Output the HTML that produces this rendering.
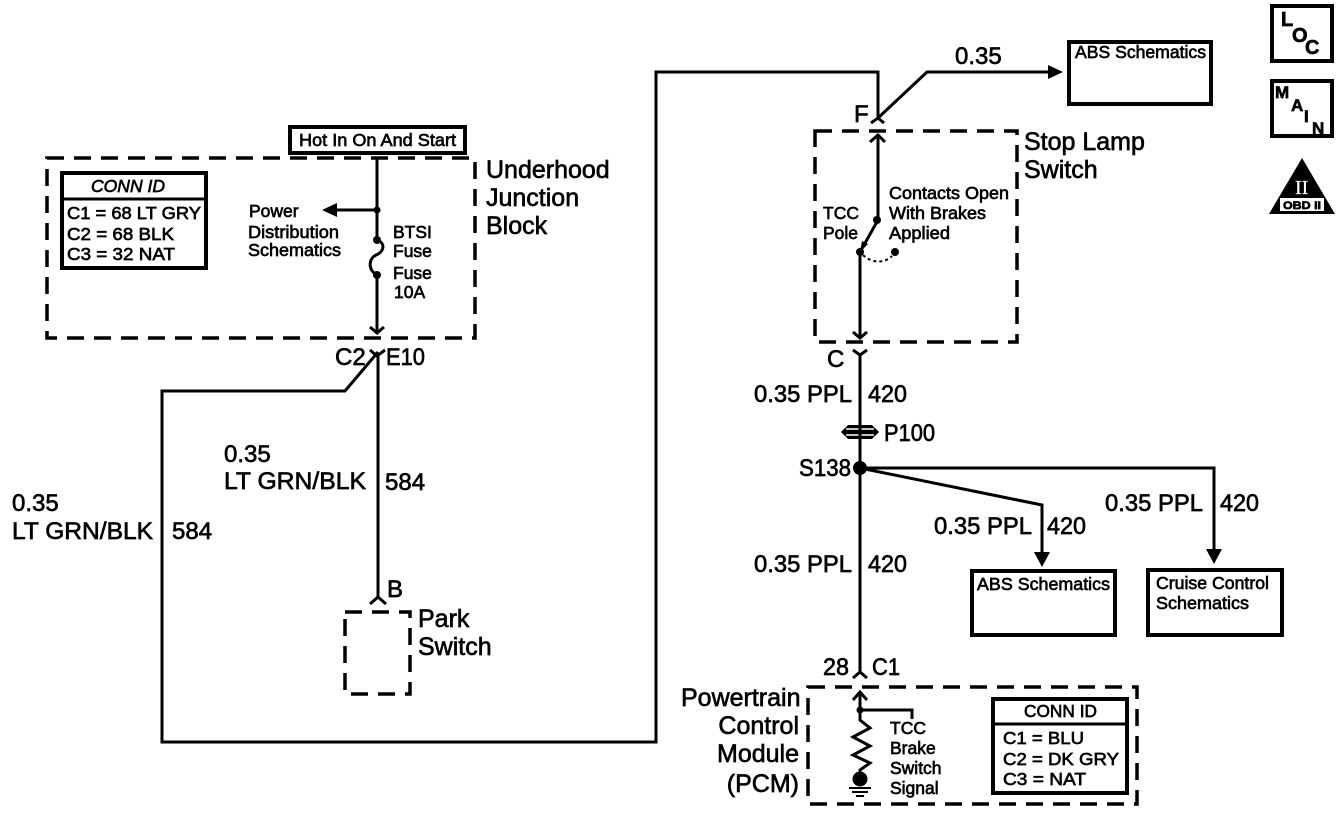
<!DOCTYPE html>
<html><head><meta charset="utf-8"><style>
html,body{margin:0;padding:0;background:#fff}
svg{display:block}
text{font-family:"Liberation Sans",sans-serif;fill:#000;stroke:#000;stroke-width:.65}
.l{font-size:25px}.m{font-size:24px}.s{font-size:17.5px}.t{font-size:17.5px}
.w{fill:none;stroke:#000;stroke-width:3}
.b{fill:none;stroke:#000;stroke-width:4}
.d{fill:none;stroke:#000;stroke-width:3.5;stroke-dasharray:17 10}
</style></head><body>
<svg width="1344" height="820" viewBox="0 0 1344 820" xmlns="http://www.w3.org/2000/svg">
<!-- dashed boxes -->
<rect class="d" x="47" y="158" width="428" height="180"/>
<rect class="d" x="815" y="131" width="202" height="211"/>
<rect class="d" x="345" y="612" width="65" height="82"/>
<rect class="d" x="808" y="687" width="329" height="117"/>
<!-- solid boxes -->
<rect class="b" x="290" y="127" width="175" height="26"/>
<text class="s" x="299" y="146" textLength="157" lengthAdjust="spacingAndGlyphs">Hot In On And Start</text>
<rect class="b" x="62" y="173" width="144" height="95"/>
<line class="w" x1="62" y1="199" x2="206" y2="199"/>
<text class="s" x="91" y="192" font-style="italic" textLength="74" lengthAdjust="spacingAndGlyphs">CONN ID</text>
<text class="s" x="67" y="219" textLength="134" lengthAdjust="spacingAndGlyphs">C1 = 68 LT GRY</text>
<text class="s" x="67" y="240" textLength="107" lengthAdjust="spacingAndGlyphs">C2 = 68 BLK</text>
<text class="s" x="67" y="260" textLength="108" lengthAdjust="spacingAndGlyphs">C3 = 32 NAT</text>
<rect class="b" x="1069" y="42" width="142" height="62"/>
<text class="s" x="1075" y="58" textLength="131" lengthAdjust="spacingAndGlyphs">ABS Schematics</text>
<rect class="b" x="972" y="571" width="143" height="64"/>
<text class="s" x="977" y="590" textLength="133" lengthAdjust="spacingAndGlyphs">ABS Schematics</text>
<rect class="b" x="1148" y="570" width="134" height="65"/>
<text class="s" x="1156" y="589" textLength="113" lengthAdjust="spacingAndGlyphs">Cruise Control</text>
<text class="s" x="1156" y="609" textLength="93" lengthAdjust="spacingAndGlyphs">Schematics</text>
<rect class="b" x="993" y="699" width="134" height="94"/>
<line class="w" x1="993" y1="724" x2="1127" y2="724"/>
<text class="s" x="1024" y="717" textLength="73" lengthAdjust="spacingAndGlyphs">CONN ID</text>
<text class="s" x="1003" y="744" textLength="81" lengthAdjust="spacingAndGlyphs">C1 = BLU</text>
<text class="s" x="1003" y="765" textLength="116" lengthAdjust="spacingAndGlyphs">C2 = DK GRY</text>
<text class="s" x="1003" y="785" textLength="83" lengthAdjust="spacingAndGlyphs">C3 = NAT</text>
<!-- left wires -->
<path class="w" d="M377 158V240M377 275V333"/>
<path class="w" d="M377 210H330"/>
<path d="M322 210l15-7v14z"/>
<path class="w" d="M377 240C386 243 384 252 376 255C368 259 368 270 377 275"/>
<circle cx="377" cy="210" r="3.5"/><circle cx="377" cy="240" r="4"/><circle cx="377" cy="275" r="4"/>
<path class="w" d="M370 327l7 6 7-6"/>
<path class="w" d="M370 350l7 6 8-6M378 352L345 391H162V742H656V72H878V118"/>
<path class="w" d="M378 356V597M370 604l8-7 8 7"/>
<!-- right top -->
<path class="w" d="M871 123l7-5 6 5M878 118L927 72H1050"/>
<path d="M1063 72l-15-7v14z"/>
<path class="w" d="M878 136V220L860 252V337"/>
<path class="w" d="M870 142l8-7 7 7"/>
<path d="M860 252l2-11 6 3z"/>
<circle cx="877" cy="220" r="4"/><circle cx="860" cy="252" r="4"/><circle cx="895" cy="252" r="4"/>
<path d="M863 255C872 264 885 263 892 256" fill="none" stroke="#000" stroke-width="2" stroke-dasharray="3 3"/>
<path class="w" d="M853 332l7 6 7-6"/>
<path class="w" d="M853 350l7 5 7-5M860 355V672M853 678l7-6 7 6"/>
<!-- P100 -->
<path d="M841 432l7-7h24l7 7-7 7h-24z" fill="#000"/>
<path d="M846 429h28M846 435h28" stroke="#fff" stroke-width="1.6"/>
<line class="w" x1="860" y1="420" x2="860" y2="445"/>
<!-- S138 -->
<circle cx="860" cy="468" r="7"/>
<path class="w" d="M860 468L1042 505V552M860 468H1214V552"/>
<path d="M1042 567l-8-15h16z"/><path d="M1214 564l-8-15h16z"/>
<!-- PCM inside -->
<path class="w" d="M860 692V720L870 728 853 737 870 746 853 755 870 763 860 770V778M860 710H912V719"/>
<path class="w" d="M853 700l7-8 7 8"/>
<circle cx="860" cy="710" r="3.5"/><circle cx="860" cy="779" r="7.5"/>
<path d="M849 788h22M852 792h16M856 796h8" stroke="#000" stroke-width="2"/>
<!-- big labels -->
<text class="l" x="486" y="178">Underhood</text>
<text class="l" x="486" y="206">Junction</text>
<text class="l" x="486" y="234">Block</text>
<text class="l" x="1024" y="150">Stop Lamp</text>
<text class="l" x="1024" y="178">Switch</text>
<text class="l" x="418" y="627">Park</text>
<text class="l" x="418" y="655">Switch</text>
<text class="l" x="681" y="706">Powertrain</text>
<text class="l" x="799" y="734" text-anchor="end">Control</text>
<text class="l" x="799" y="762" text-anchor="end">Module</text>
<text class="l" x="799" y="792" text-anchor="end">(PCM)</text>
<!-- wire labels -->
<text class="m" x="955" y="64">0.35</text>
<text class="m" x="335" y="365">C2</text><text class="m" x="386" y="365" textLength="39" lengthAdjust="spacingAndGlyphs">E10</text>
<text class="m" x="854" y="122">F</text>
<text class="m" x="827" y="367">C</text>
<text class="m" x="754" y="402" textLength="98" lengthAdjust="spacingAndGlyphs">0.35 PPL</text><text class="m" x="868" y="402" textLength="39" lengthAdjust="spacingAndGlyphs">420</text>
<text class="m" x="884" y="441" textLength="51" lengthAdjust="spacingAndGlyphs">P100</text>
<text class="m" x="799" y="476" textLength="52" lengthAdjust="spacingAndGlyphs">S138</text>
<text class="m" x="754" y="572" textLength="98" lengthAdjust="spacingAndGlyphs">0.35 PPL</text><text class="m" x="868" y="572" textLength="39" lengthAdjust="spacingAndGlyphs">420</text>
<text class="m" x="934" y="534" textLength="98" lengthAdjust="spacingAndGlyphs">0.35 PPL</text><text class="m" x="1047" y="534" textLength="39" lengthAdjust="spacingAndGlyphs">420</text>
<text class="m" x="1105" y="511" textLength="98" lengthAdjust="spacingAndGlyphs">0.35 PPL</text><text class="m" x="1220" y="511" textLength="39" lengthAdjust="spacingAndGlyphs">420</text>
<text class="m" x="224" y="462">0.35</text>
<text class="m" x="224" y="489" textLength="142" lengthAdjust="spacingAndGlyphs">LT GRN/BLK</text><text class="m" x="385" y="490">584</text>
<text class="m" x="12" y="511">0.35</text>
<text class="m" x="12" y="539" textLength="141" lengthAdjust="spacingAndGlyphs">LT GRN/BLK</text><text class="m" x="172" y="539">584</text>
<text class="m" x="387" y="597">B</text>
<text class="m" x="823" y="675" textLength="26" lengthAdjust="spacingAndGlyphs">28</text><text class="m" x="872" y="675" textLength="28" lengthAdjust="spacingAndGlyphs">C1</text>
<!-- small labels -->
<text class="t" x="249" y="217">Power</text>
<text class="t" x="248" y="238" textLength="91" lengthAdjust="spacingAndGlyphs">Distribution</text>
<text class="t" x="248" y="256" textLength="93" lengthAdjust="spacingAndGlyphs">Schematics</text>
<text class="t" x="393" y="238">BTSI</text>
<text class="t" x="393" y="257">Fuse</text>
<text class="t" x="393" y="279">Fuse</text>
<text class="t" x="394" y="298">10A</text>
<text class="t" x="889" y="199" textLength="120" lengthAdjust="spacingAndGlyphs">Contacts Open</text>
<text class="t" x="889" y="219" textLength="97" lengthAdjust="spacingAndGlyphs">With Brakes</text>
<text class="t" x="889" y="239" textLength="61" lengthAdjust="spacingAndGlyphs">Applied</text>
<text class="t" x="823" y="219">TCC</text>
<text class="t" x="823" y="239">Pole</text>
<text class="t" x="890" y="734">TCC</text>
<text class="t" x="890" y="754">Brake</text>
<text class="t" x="890" y="774">Switch</text>
<text class="t" x="890" y="794">Signal</text>
<!-- icons -->
<rect class="b" x="1272" y="6" width="60" height="55"/>
<text x="1281" y="26" style="font-size:20px;font-weight:bold">L</text>
<text x="1292" y="42" style="font-size:20px;font-weight:bold">O</text>
<text x="1305" y="54" style="font-size:20px;font-weight:bold">C</text>
<rect class="b" x="1272" y="81" width="60" height="55"/>
<text x="1275" y="98" style="font-size:17px;font-weight:bold">M</text>
<text x="1291" y="111" style="font-size:17px;font-weight:bold">A</text>
<text x="1304" y="122" style="font-size:17px;font-weight:bold">I</text>
<text x="1312" y="134" style="font-size:17px;font-weight:bold">N</text>
<path d="M1302 158L1335 214H1269z"/>
<rect x="1280" y="198" width="44" height="13" fill="#fff"/>
<text x="1283" y="209" style="font-size:11px;font-weight:bold" textLength="38" lengthAdjust="spacingAndGlyphs">OBD II</text>
<text x="1295" y="194" style="font-size:20px;font-family:'Liberation Serif',serif;fill:#fff;stroke:#fff;stroke-width:.2">II</text>
</svg>
</body></html>
